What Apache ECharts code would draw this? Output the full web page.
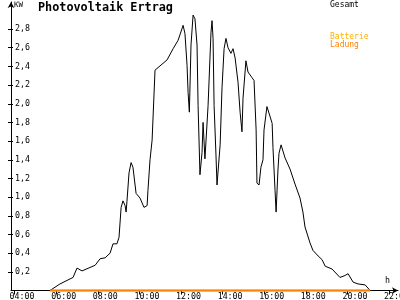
<!DOCTYPE html>
<html><head><meta charset="utf-8">
<script src="https://cdn.jsdelivr.net/npm/echarts@6/dist/echarts.min.js"></script>
<style>html,body{margin:0;padding:0;background:#fff}#c{width:400px;height:300px}</style>
</head><body><div id="c"></div>
<script>
const chartTitle = 'Photovoltaik Ertrag';
const seriesNames = ['Gesamt', 'Batterie', 'Ladung'];
const seriesColors = ['#000000', '#ffb000', '#ff8000'];
const yUnit = 'KW';
const xUnit = 'h';
// time in decimal hours
const gesamtTimes = [5.70,6.18,6.81,7.00,7.24,7.87,8.11,8.35,8.59,8.73,8.92,9.02,9.12,9.21,9.31,9.36,9.40,9.50,9.60,9.69,9.84,9.93,10.03,10.22,10.37,10.41,10.51,10.61,10.75,11.33,11.62,11.86,12.10,12.19,12.29,12.34,12.40,12.48,12.58,12.67,12.77,12.82,12.91,13.01,13.06,13.15,13.30,13.44,13.49,13.54,13.59,13.68,13.73,13.88,13.97,14.07,14.16,14.26,14.40,14.50,14.60,14.74,14.84,14.93,14.98,15.12,15.22,15.41,15.51,15.61,15.65,15.75,15.84,15.94,15.99,16.13,16.23,16.38,16.42,16.52,16.57,16.66,16.71,16.81,17.00,17.24,17.48,17.72,17.86,17.96,18.20,18.34,18.59,18.78,18.93,19.26,19.64,19.88,20.03,20.27,20.51,20.85,21.09];
const gesamtValues = [0,0.07,0.14,0.24,0.21,0.27,0.34,0.35,0.40,0.50,0.50,0.57,0.89,0.96,0.91,0.84,0.95,1.26,1.37,1.32,1.04,1.04,0.99,0.89,0.91,1.07,1.40,1.61,2.36,2.47,2.59,2.68,2.84,2.75,2.41,2.12,1.91,2.63,2.95,2.91,2.63,1.98,1.24,1.48,1.80,1.41,1.98,2.76,2.89,2.70,1.98,1.45,1.13,1.56,2.17,2.59,2.70,2.60,2.54,2.59,2.49,2.23,1.91,1.70,2.06,2.46,2.34,2.28,2.25,1.72,1.15,1.13,1.32,1.40,1.72,1.97,1.90,1.79,1.53,1.07,0.84,1.29,1.47,1.56,1.42,1.30,1.14,0.99,0.84,0.68,0.51,0.43,0.37,0.33,0.26,0.23,0.14,0.16,0.18,0.09,0.07,0.06,0];
const akkuTimes = [5.70, 21.09];
const batterieValues = [0, 0];
const ladungValues = [0, 0];
const xTickHours = [4, 6, 8, 10, 12, 14, 16, 18, 20, 22];
const yTickValues = [0.2, 0.4, 0.6, 0.8, 1.0, 1.2, 1.4, 1.6, 1.8, 2.0, 2.2, 2.4, 2.6, 2.8];

const zip = (a, b) => a.map((t, i) => [t, b[i]]);
const mono = 'DejaVu Sans Mono';
const fmtH = v => String(Math.round(v)).padStart(2, '0') + ':00';
const fmtY = v => v.toFixed(1).replace('.', ',');
const yMin = 0, yMax = 3.09;

const chart = echarts.init(document.getElementById('c'), null, {renderer: 'canvas'});
chart.setOption({
  animation: false,
  backgroundColor: '#ffffff',
  title: {text: chartTitle, left: 38, top: 2, padding: 0,
    textStyle: {fontFamily: mono, fontWeight: 'bold', fontSize: 11.8, color: '#000'}},
  grid: {left: 11, right: 2, top: 2, bottom: 9.5, containLabel: false, outerBoundsMode: 'none'},
  xAxis: {
    type: 'value', min: 3.827, max: 22.43,
    axisLine: {show: true, onZero: false, symbol: ['none', 'arrow'], symbolSize: [5, 6], lineStyle: {color: '#000', width: 1}},
    axisTick: {show: true, customValues: xTickHours, length: 4, lineStyle: {color: '#000'}},
    axisLabel: {customValues: xTickHours, formatter: fmtH, align: 'left', padding: [0, 0, 0, -5], margin: 2,
      fontFamily: mono, fontSize: 8.3, color: '#000', lineHeight: 9},
    splitLine: {show: false}
  },
  yAxis: [{
    type: 'value', min: yMin, max: yMax,
    axisLine: {show: true, onZero: false, symbol: ['none', 'arrow'], symbolSize: [5, 6], lineStyle: {color: '#000', width: 1}},
    axisTick: {show: true, customValues: yTickValues, length: 3, lineStyle: {color: '#000'}},
    axisLabel: {inside: true, customValues: yTickValues, formatter: fmtY, margin: 4,
      fontFamily: mono, fontSize: 8.3, color: '#000'},
    splitLine: {show: false}
  }, {
    type: 'value', min: yMin, max: yMax, position: 'left', offset: 0,
    axisLine: {show: false},
    axisTick: {show: true, inside: true, customValues: yTickValues, length: 2, lineStyle: {color: '#000'}},
    axisLabel: {show: false},
    splitLine: {show: false}
  }],
  graphic: [
    {type: 'text', left: 14, top: 1, style: {text: yUnit, fontFamily: mono, fontSize: 7.5, fill: '#000'}},
    {type: 'text', left: 385, top: 277, style: {text: xUnit, fontFamily: mono, fontSize: 8.3, fill: '#000'}},
    {type: 'text', left: 330, top: 1, style: {text: seriesNames[0], fontFamily: mono, fontSize: 8, fill: seriesColors[0]}},
    {type: 'text', left: 330, top: 33, style: {text: seriesNames[1], fontFamily: mono, fontSize: 8, fill: seriesColors[1]}},
    {type: 'text', left: 330, top: 41, style: {text: seriesNames[2], fontFamily: mono, fontSize: 8, fill: seriesColors[2]}}
  ],
  series: [
    {name: seriesNames[0], type: 'line', data: zip(gesamtTimes, gesamtValues), showSymbol: false, clip: false,
      lineStyle: {color: seriesColors[0], width: 1}, itemStyle: {color: seriesColors[0]}},
    {name: seriesNames[1], type: 'line', data: zip(akkuTimes, batterieValues), showSymbol: false, clip: false,
      lineStyle: {color: seriesColors[1], width: 1.5}},
    {name: seriesNames[2], type: 'line', data: zip(akkuTimes, ladungValues), showSymbol: false, clip: false, z: 5,
      lineStyle: {color: seriesColors[2], width: 2}}
  ]
});
</script></body></html>
